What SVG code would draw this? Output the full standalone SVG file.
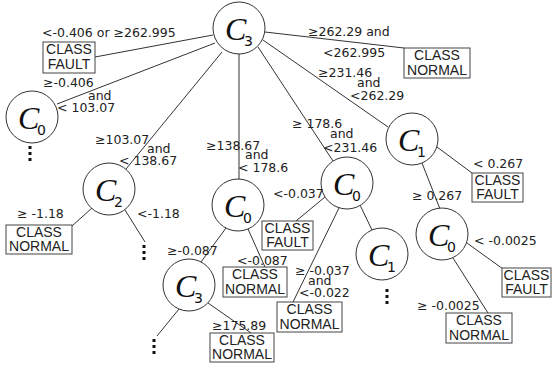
<svg xmlns="http://www.w3.org/2000/svg" width="552" height="367" viewBox="0 0 552 367">
<style>
.nd circle{fill:#fff;stroke:#333;stroke-width:1}
.cv{font-family:"Liberation Serif",serif;font-style:italic;font-size:32px;fill:#111}
.sb{font-family:"DejaVu Sans",sans-serif;font-size:14px;fill:#111}
.lb{font-family:"DejaVu Sans",sans-serif;font-size:12.5px;fill:#222}
.bx rect{fill:#fff;stroke:#444;stroke-width:1}
.bx text{font-family:"Liberation Sans",Arial,sans-serif;font-size:14px;fill:#222;text-anchor:middle}
#edges line{stroke:#333;stroke-width:1}
.dot{fill:#111}
</style>
<rect width="552" height="367" fill="#fff"/>
<g id="edges">
<line x1="213" y1="35" x2="95" y2="57"/>
<line x1="215" y1="43" x2="57" y2="104"/>
<line x1="222" y1="52" x2="126" y2="169"/>
<line x1="239" y1="54" x2="239" y2="179"/>
<line x1="258" y1="47" x2="333" y2="161"/>
<line x1="263" y1="40" x2="388" y2="127"/>
<line x1="265" y1="32" x2="404" y2="48"/>
<line x1="92" y1="208" x2="72" y2="226"/>
<line x1="125" y1="210" x2="145" y2="242"/>
<line x1="226" y1="228" x2="201" y2="262"/>
<line x1="248" y1="229" x2="265" y2="267"/>
<line x1="179" y1="309" x2="157" y2="336"/>
<line x1="208" y1="303" x2="251" y2="333"/>
<line x1="325" y1="197" x2="296" y2="221"/>
<line x1="339" y1="208" x2="293" y2="302"/>
<line x1="360" y1="205" x2="372" y2="230"/>
<line x1="437" y1="147" x2="472" y2="173"/>
<line x1="422" y1="163" x2="440" y2="209"/>
<line x1="467" y1="243" x2="503" y2="269"/>
<line x1="453" y1="258" x2="488" y2="313"/>
</g>
<g id="n_root" class="nd"><circle cx="239" cy="28" r="26"/><text class="cv" x="225" y="40">C</text><text class="sb" x="244" y="46">3</text></g>
<g id="n_c0a" class="nd"><circle cx="32" cy="117" r="26"/><text class="cv" x="18" y="129">C</text><text class="sb" x="37" y="135">0</text></g>
<g id="n_c2" class="nd"><circle cx="109" cy="189" r="26"/><text class="cv" x="95" y="201">C</text><text class="sb" x="114" y="207">2</text></g>
<g id="n_c0b" class="nd"><circle cx="238" cy="205" r="26"/><text class="cv" x="224" y="217">C</text><text class="sb" x="243" y="223">0</text></g>
<g id="n_c0c" class="nd"><circle cx="347" cy="183" r="26"/><text class="cv" x="333" y="195">C</text><text class="sb" x="352" y="201">0</text></g>
<g id="n_c1a" class="nd"><circle cx="412" cy="139" r="26"/><text class="cv" x="398" y="151">C</text><text class="sb" x="417" y="157">1</text></g>
<g id="n_c3b" class="nd"><circle cx="189" cy="285" r="26"/><text class="cv" x="175" y="297">C</text><text class="sb" x="194" y="303">3</text></g>
<g id="n_c1b" class="nd"><circle cx="382" cy="254" r="26"/><text class="cv" x="368" y="266">C</text><text class="sb" x="387" y="272">1</text></g>
<g id="n_c0d" class="nd"><circle cx="442" cy="234" r="26"/><text class="cv" x="428" y="246">C</text><text class="sb" x="447" y="252">0</text></g>
<g id="b1" class="bx"><rect x="43" y="42" width="52" height="31"/><text x="69" y="54">CLASS</text><text x="69" y="69">FAULT</text></g>
<g id="b2" class="bx"><rect x="404" y="48" width="66" height="30"/><text x="437" y="60">CLASS</text><text x="437" y="74.5">NORMAL</text></g>
<g id="b3" class="bx"><rect x="6" y="225" width="66" height="29"/><text x="39" y="237">CLASS</text><text x="39" y="251">NORMAL</text></g>
<g id="b4" class="bx"><rect x="262" y="221" width="51" height="29"/><text x="287.5" y="233">CLASS</text><text x="287.5" y="247">FAULT</text></g>
<g id="b5" class="bx"><rect x="472" y="173" width="51" height="29"/><text x="497.5" y="185">CLASS</text><text x="497.5" y="199">FAULT</text></g>
<g id="b6" class="bx"><rect x="223" y="267" width="64" height="30"/><text x="255" y="279">CLASS</text><text x="255" y="293.5">NORMAL</text></g>
<g id="b7" class="bx"><rect x="277" y="302" width="65" height="30"/><text x="309.5" y="314">CLASS</text><text x="309.5" y="328.5">NORMAL</text></g>
<g id="b8" class="bx"><rect x="210" y="333" width="64" height="29"/><text x="242" y="345">CLASS</text><text x="242" y="359">NORMAL</text></g>
<g id="b9" class="bx"><rect x="502" y="268" width="49" height="29"/><text x="526.5" y="280">CLASS</text><text x="526.5" y="294">FAULT</text></g>
<g id="b10" class="bx"><rect x="446" y="313" width="66" height="30"/><text x="479" y="325">CLASS</text><text x="479" y="339.5">NORMAL</text></g>
<g id="dots">
<rect class="dot" x="28.5" y="146" width="3" height="3"/><rect class="dot" x="28.5" y="152" width="3" height="3"/><rect class="dot" x="28.5" y="158" width="3" height="3"/>
<rect class="dot" x="142.5" y="245" width="3" height="3"/><rect class="dot" x="142.5" y="251" width="3" height="3"/><rect class="dot" x="142.5" y="257" width="3" height="3"/>
<rect class="dot" x="152.5" y="339" width="3" height="3"/><rect class="dot" x="152.5" y="345" width="3" height="3"/><rect class="dot" x="152.5" y="351" width="3" height="3"/>
<rect class="dot" x="385.5" y="289" width="3" height="3"/><rect class="dot" x="385.5" y="295" width="3" height="3"/><rect class="dot" x="385.5" y="301" width="3" height="3"/>
</g>
<g id="labels" class="lb">
<text x="42" y="37">&lt;-0.406 or ≥262.995</text>
<text x="43" y="87">≥-0.406</text>
<text x="88" y="100">and</text>
<text x="57" y="112">&lt; 103.07</text>
<text x="95" y="144">≥103.07</text>
<text x="147" y="153">and</text>
<text x="119" y="165">&lt; 138.67</text>
<text x="206" y="150">≥138.67</text>
<text x="245" y="159">and</text>
<text x="238" y="172">&lt; 178.6</text>
<text x="292" y="128">≥ 178.6</text>
<text x="330" y="138">and</text>
<text x="323" y="152">&lt;231.46</text>
<text x="308" y="36">≥262.29 and</text>
<text x="323" y="57">&lt;262.995</text>
<text x="318" y="77">≥231.46</text>
<text x="357" y="87">and</text>
<text x="350" y="100">&lt;262.29</text>
<text x="17" y="218">≥ -1.18</text>
<text x="137" y="218">&lt;-1.18</text>
<text x="167" y="255">≥-0.087</text>
<text x="237" y="265">&lt;-0.087</text>
<text x="212" y="330">≥175.89</text>
<text x="295" y="275">≥ -0.037</text>
<text x="308" y="285">and</text>
<text x="299" y="297">&lt;-0.022</text>
<text x="273" y="198">&lt;-0.037</text>
<text x="473" y="168">&lt; 0.267</text>
<text x="412" y="200">≥ 0.267</text>
<text x="474" y="245">&lt; -0.0025</text>
<text x="417" y="310">≥ -0.0025</text>
</g>
</svg>
